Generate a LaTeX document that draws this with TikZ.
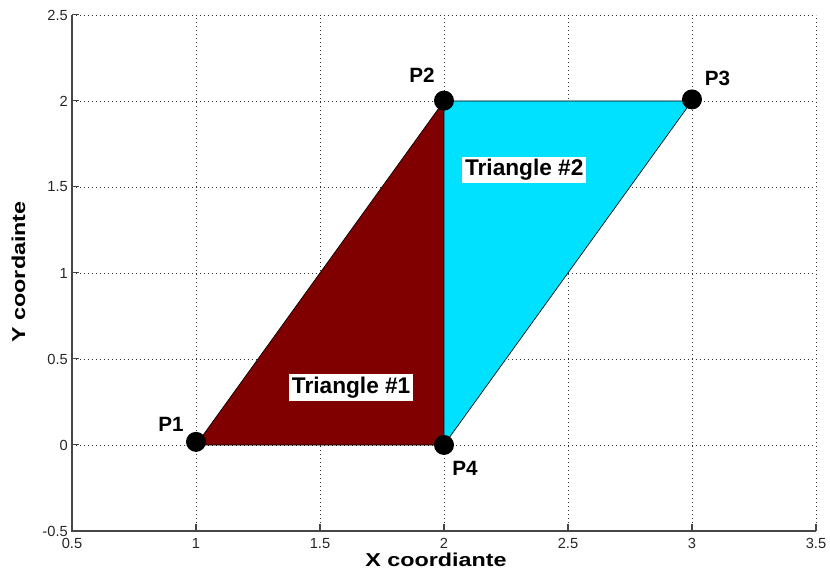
\documentclass[tikz,border=0pt]{standalone}
\usepackage{fontspec}
\setmainfont{Liberation Sans}
\newfontfamily\widebold{Liberation Sans Bold}[FakeStretch=1.25]
\definecolor{darkred}{RGB}{128,0,0}
\definecolor{cyanfill}{RGB}{0,224,255}
\definecolor{axisgray}{RGB}{70,70,70}
\begin{document}
\begin{tikzpicture}[x=186pt,y=129pt,
  gridline/.style={black!80,line width=0.6pt,dash pattern=on 0.6pt off 2.4pt},
  axisline/.style={axisgray,line width=1.1pt},
  ticklabel/.style={font=\fontsize{11}{13}\selectfont,text=black!85,inner sep=0pt},
  axtitle/.style={font=\widebold\fontsize{14}{16}\selectfont,inner sep=0pt},
  ptlabel/.style={font=\bfseries\fontsize{15.5}{18}\selectfont,inner sep=0pt},
  trilabel/.style={font=\bfseries\fontsize{17}{20}\selectfont,fill=white,inner xsep=2pt,inner ysep=2pt,anchor=base west},
  marker/.style={circle,fill=black,inner sep=0pt,minimum size=15pt},
  tri/.style={draw=black,line width=0.5pt,line join=round}]
\useasboundingbox (0.2097,-0.785) rectangle (3.5565,2.587);
% grid
\foreach \x in {1,1.5,2,2.5,3,3.5} \draw[gridline] (\x,-0.5) -- (\x,2.5);
\foreach \y in {0,0.5,1,1.5,2,2.5} \draw[gridline] (0.5,\y) -- (3.5,\y);
% axes
\coordinate (o) at (0.5,-0.5);
\coordinate (xe) at (3.5,-0.5);
\coordinate (ye) at (0.5,2.5);
\draw[axisline] (ye) -- (o) -- (xe);
\foreach \x in {0.5,1,1.5,2,2.5,3,3.5} {
  \draw[axisline,line width=0.8pt] (\x,-0.5) -- ++(0,5pt);
  \node[ticklabel,anchor=north] at (\x,-0.54) {\x};
}
\foreach \y in {-0.5,0,0.5,1,1.5,2,2.5} {
  \draw[axisline,line width=0.8pt] (0.5,\y) -- ++(5pt,0);
  \node[ticklabel,anchor=east] at (0.484,\y) {\y};
}
\node[axtitle] (xt) at (1.968,-0.669) {X coordiante};
\node[axtitle,rotate=90] (yt) at (0.284,1.006) {Y coordainte};
% vertices
\coordinate (p1) at (1,0);
\coordinate (p2) at (2,2);
\coordinate (p3) at (3,2);
\coordinate (p4) at (2,0);
\draw[tri,fill=darkred] (p1) -- (p2) -- (p4) -- cycle;
\draw[tri,fill=cyanfill] (p2) -- (p3) -- (p4) -- cycle;
\node[marker] (m1) at (1,0.018) {};
\node[marker] (m2) at (2,2.002) {};
\node[marker] (m3) at (3,2.009) {};
\node[marker] (m4) at (2,0) {};
\node[ptlabel] (l1) at (0.899,0.119) {P1};
\node[ptlabel] (l2) at (1.911,2.151) {P2};
\node[ptlabel] (l3) at (3.103,2.131) {P3};
\node[ptlabel] (l4) at (2.085,-0.137) {P4};
\node[trilabel] (t1) at (1.375,0.301) {Triangle \#1\hspace{8pt}};
\node[trilabel] (t2) at (2.073,1.564) {Triangle \#2\hspace{3pt}};
\end{tikzpicture}
\end{document}
